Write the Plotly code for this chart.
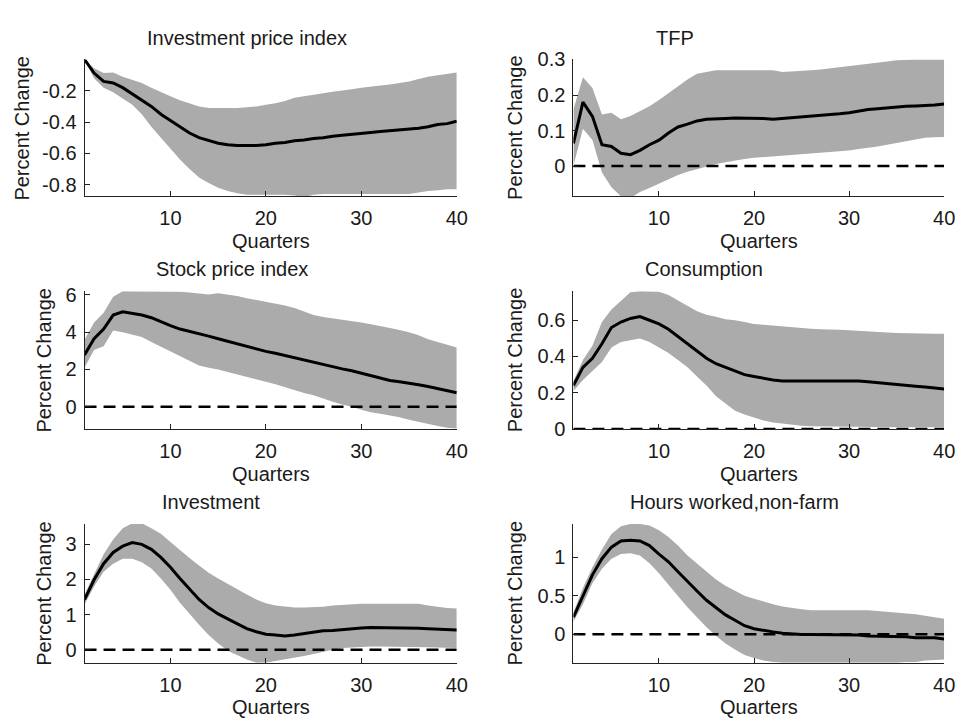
import plotly.graph_objects as go

quarters = list(range(1, 41))

# Investment price index
inv_price_mean = [0.0, -0.087, -0.14, -0.15, -0.18, -0.22, -0.26, -0.30, -0.35, -0.39,
                  -0.43, -0.47, -0.50, -0.52, -0.535, -0.545, -0.55, -0.55, -0.55, -0.545,
                  -0.535, -0.53, -0.52, -0.515, -0.505, -0.50, -0.49, -0.485, -0.48, -0.473,
                  -0.467, -0.46, -0.455, -0.45, -0.445, -0.44, -0.43, -0.415, -0.41, -0.395]
inv_price_upper = [0.0, -0.056, -0.087, -0.083, -0.11, -0.13, -0.15, -0.18, -0.21, -0.235,
                   -0.26, -0.28, -0.30, -0.31, -0.31, -0.31, -0.31, -0.305, -0.30, -0.29,
                   -0.28, -0.265, -0.245, -0.235, -0.227, -0.216, -0.206, -0.20, -0.19, -0.18,
                   -0.175, -0.167, -0.16, -0.15, -0.14, -0.125, -0.11, -0.10, -0.09, -0.083]
inv_price_lower = [0.0, -0.12, -0.18, -0.21, -0.25, -0.29, -0.35, -0.43, -0.50, -0.57,
                   -0.64, -0.70, -0.755, -0.79, -0.82, -0.84, -0.855, -0.865, -0.865, -0.865,
                   -0.865, -0.865, -0.87, -0.88, -0.865, -0.86, -0.86, -0.86, -0.86, -0.86,
                   -0.86, -0.86, -0.86, -0.86, -0.86, -0.85, -0.84, -0.835, -0.83, -0.83]

# TFP
tfp_mean = [0.064, 0.18, 0.14, 0.06, 0.055, 0.036, 0.032, 0.044, 0.06, 0.073,
            0.093, 0.11, 0.118, 0.127, 0.132, 0.134, 0.134, 0.135, 0.135, 0.136,
            0.134, 0.132, 0.134, 0.136, 0.138, 0.139, 0.141, 0.144, 0.147, 0.15,
            0.155, 0.159, 0.161, 0.164, 0.166, 0.168, 0.169, 0.17, 0.172, 0.175]
tfp_upper = [0.159, 0.25, 0.22, 0.145, 0.15, 0.132, 0.141, 0.155, 0.168, 0.186,
             0.205, 0.223, 0.244, 0.26, 0.265, 0.27, 0.27, 0.27, 0.27, 0.27,
             0.27, 0.27, 0.265, 0.266, 0.268, 0.27, 0.272, 0.275, 0.277, 0.28,
             0.283, 0.286, 0.29, 0.294, 0.298, 0.3, 0.3, 0.3, 0.3, 0.3]
tfp_lower = [0.0, 0.105, 0.073, -0.018, -0.06, -0.085, -0.09, -0.073, -0.062, -0.05,
             -0.036, -0.025, -0.016, -0.009, 0.0, 0.006, 0.011, 0.016, 0.02, 0.023,
             0.025, 0.027, 0.029, 0.031, 0.032, 0.034, 0.036, 0.038, 0.041, 0.044,
             0.048, 0.051, 0.055, 0.06, 0.064, 0.07, 0.075, 0.08, 0.081, 0.082]

# Stock price index
stock_mean = [2.78, 3.65, 4.17, 4.92, 5.1, 5.03, 4.92, 4.78, 4.56, 4.35,
              4.17, 4.05, 3.95, 3.79, 3.65, 3.51, 3.36, 3.22, 3.08, 2.97,
              2.87, 2.75, 2.63, 2.49, 2.37, 2.24, 2.14, 2.03, 1.93, 1.79,
              1.65, 1.51, 1.41, 1.34, 1.27, 1.18, 1.08, 0.96, 0.87, 0.75]
stock_upper = [3.6, 4.52, 5.04, 5.9, 6.2, 6.2, 6.2, 6.2, 6.2, 6.2,
               6.17, 6.14, 6.09, 6.03, 6.09, 6.03, 5.95, 5.83, 5.74, 5.65,
               5.57, 5.44, 5.3, 5.13, 4.92, 4.82, 4.75, 4.7, 4.6, 4.52,
               4.43, 4.35, 4.23, 4.12, 4.0, 3.83, 3.62, 3.48, 3.34, 3.18]
stock_lower = [2.1, 3.04, 3.25, 4.09, 4.0, 3.88, 3.74, 3.48, 3.22, 2.96,
               2.7, 2.43, 2.21, 2.09, 2.0, 1.86, 1.74, 1.6, 1.48, 1.34,
               1.2, 1.04, 0.87, 0.73, 0.61, 0.43, 0.26, 0.12, 0.0, -0.17,
               -0.3, -0.38, -0.47, -0.57, -0.7, -0.82, -0.96, -1.04, -1.13, -1.18]

# Consumption
cons_mean = [0.24, 0.34, 0.39, 0.47, 0.56, 0.59, 0.61, 0.62, 0.60, 0.58,
             0.55, 0.51, 0.47, 0.43, 0.39, 0.36, 0.34, 0.32, 0.30, 0.29,
             0.28, 0.27, 0.265, 0.265, 0.265, 0.265, 0.265, 0.265, 0.265, 0.265,
             0.265, 0.26, 0.256, 0.25, 0.247, 0.242, 0.236, 0.231, 0.226, 0.22]
cons_upper = [0.265, 0.38, 0.46, 0.59, 0.66, 0.71, 0.755, 0.76, 0.76, 0.757,
              0.74, 0.71, 0.68, 0.65, 0.63, 0.62, 0.605, 0.60, 0.59, 0.58,
              0.575, 0.57, 0.565, 0.56, 0.555, 0.553, 0.55, 0.55, 0.548, 0.545,
              0.543, 0.54, 0.535, 0.533, 0.53, 0.53, 0.528, 0.527, 0.526, 0.525]
cons_lower = [0.21, 0.27, 0.32, 0.37, 0.45, 0.48, 0.49, 0.50, 0.48, 0.45,
              0.42, 0.38, 0.34, 0.29, 0.24, 0.18, 0.14, 0.10, 0.08, 0.063,
              0.047, 0.036, 0.029, 0.023, 0.018, 0.015, 0.014, 0.013, 0.013, 0.012,
              0.012, 0.011, 0.011, 0.01, 0.01, 0.01, 0.01, 0.009, 0.009, 0.009]

# Investment
inv_mean = [1.43, 1.99, 2.45, 2.77, 2.95, 3.05, 3.0, 2.86, 2.63, 2.35,
            2.03, 1.73, 1.43, 1.2, 1.02, 0.88, 0.74, 0.6, 0.51, 0.44,
            0.42, 0.39, 0.42, 0.46, 0.51, 0.54, 0.55, 0.58, 0.6, 0.62,
            0.63, 0.63, 0.63, 0.62, 0.62, 0.61, 0.6, 0.58, 0.57, 0.56]
inv_upper = [1.57, 2.17, 2.72, 3.14, 3.46, 3.6, 3.6, 3.46, 3.3, 3.07,
             2.83, 2.61, 2.4, 2.19, 2.03, 1.87, 1.73, 1.57, 1.43, 1.32,
             1.26, 1.23, 1.2, 1.2, 1.2, 1.22, 1.26, 1.28, 1.3, 1.31,
             1.31, 1.31, 1.31, 1.31, 1.31, 1.31, 1.26, 1.22, 1.19, 1.17]
inv_lower = [1.29, 1.8, 2.22, 2.45, 2.59, 2.59, 2.49, 2.31, 2.03, 1.71,
             1.34, 1.02, 0.71, 0.42, 0.18, -0.03, -0.16, -0.28, -0.37, -0.37,
             -0.32, -0.28, -0.23, -0.18, -0.12, -0.05, 0.0, 0.05, 0.07, 0.09,
             0.09, 0.09, 0.09, 0.08, 0.08, 0.07, 0.07, 0.06, 0.05, 0.05]

# Hours worked, non-farm
hours_mean = [0.22, 0.49, 0.77, 0.98, 1.13, 1.21, 1.22, 1.21, 1.15, 1.04,
              0.94, 0.81, 0.68, 0.56, 0.44, 0.35, 0.25, 0.18, 0.11, 0.07,
              0.046, 0.03, 0.013, 0.0, -0.004, -0.004, -0.004, -0.004, -0.004, -0.004,
              -0.01, -0.025, -0.025, -0.025, -0.025, -0.034, -0.046, -0.046, -0.046, -0.063]
hours_upper = [0.28, 0.6, 0.87, 1.1, 1.3, 1.4, 1.43, 1.43, 1.41, 1.35,
               1.26, 1.15, 1.02, 0.92, 0.81, 0.71, 0.63, 0.56, 0.5, 0.46,
               0.42, 0.39, 0.36, 0.34, 0.325, 0.31, 0.31, 0.31, 0.31, 0.31,
               0.31, 0.31, 0.30, 0.29, 0.28, 0.27, 0.26, 0.24, 0.22, 0.2]
hours_lower = [0.16, 0.39, 0.66, 0.85, 0.98, 1.04, 1.05, 1.02, 0.92, 0.79,
               0.64, 0.49, 0.35, 0.22, 0.09, -0.02, -0.12, -0.2, -0.27, -0.31,
               -0.34, -0.36, -0.37, -0.37, -0.37, -0.37, -0.37, -0.37, -0.37, -0.37,
               -0.37, -0.37, -0.37, -0.37, -0.37, -0.36, -0.36, -0.34, -0.335, -0.33]

panel_titles = ["Investment price index", "TFP", "Stock price index",
                "Consumption", "Investment", "Hours worked,non-farm"]
y_tick_values = [
    [-0.8, -0.6, -0.4, -0.2],
    [0, 0.1, 0.2, 0.3],
    [0, 2, 4, 6],
    [0, 0.2, 0.4, 0.6],
    [0, 1, 2, 3],
    [0, 0.5, 1],
]
y_tick_labels = [
    ["-0.8", "-0.6", "-0.4", "-0.2"],
    ["0", "0.1", "0.2", "0.3"],
    ["0", "2", "4", "6"],
    ["0", "0.2", "0.4", "0.6"],
    ["0", "1", "2", "3"],
    ["0", "0.5", "1"],
]
x_tick_values = [10, 20, 30, 40]

series = [
    (inv_price_mean, inv_price_lower, inv_price_upper),
    (tfp_mean, tfp_lower, tfp_upper),
    (stock_mean, stock_lower, stock_upper),
    (cons_mean, cons_lower, cons_upper),
    (inv_mean, inv_lower, inv_upper),
    (hours_mean, hours_lower, hours_upper),
]

# Layout in pixels (figure is 969 x 728)
W, H = 969, 728
col_px = [(85.5, 462.0), (580.0, 955.0)]
row_px = [(50.0, 191.0), (289.0, 431.0), (529.0, 672.0)]
y_ranges = [(-0.874, 0.0), (-0.085, 0.3), (-1.2, 6.2), (0.0, 0.76), (-0.37, 3.58), (-0.37, 1.43)]
show_zero = [False, True, True, True, True, True]
title_pos = [(250, 28), (683, 28), (235, 266), (712, 266), (213, 506), (743, 506)]
ylabel_x = [22, 521, 45, 521, 45, 521]

SHADE = "#ababab"
TEXT = "#1a1a1a"
FONT = "Liberation Sans, Arial, sans-serif"

fig = go.Figure()
annotations = []

for i, (mean, lower, upper) in enumerate(series):
    r, c = divmod(i, 2)
    ax_id = "" if i == 0 else str(i + 1)
    xa, ya = "x" + ax_id, "y" + ax_id
    # confidence band
    fig.add_trace(go.Scatter(x=quarters, y=upper, mode="lines", line=dict(width=0, color=SHADE),
                             xaxis=xa, yaxis=ya, showlegend=False, hoverinfo="skip"))
    fig.add_trace(go.Scatter(x=quarters, y=lower, mode="lines", line=dict(width=0, color=SHADE),
                             fill="tonexty", fillcolor=SHADE,
                             xaxis=xa, yaxis=ya, showlegend=False, hoverinfo="skip"))
    # zero reference
    if show_zero[i]:
        fig.add_trace(go.Scatter(x=[1, 40], y=[0, 0], mode="lines",
                                 line=dict(color="black", width=2.5, dash="12px,7px"),
                                 xaxis=xa, yaxis=ya, showlegend=False, hoverinfo="skip"))
    # point estimate
    fig.add_trace(go.Scatter(x=quarters, y=mean, mode="lines",
                             line=dict(color="black", width=3),
                             xaxis=xa, yaxis=ya, showlegend=False))

    x0, x1 = col_px[c]
    y0, y1 = row_px[r]
    axis_common = dict(showgrid=False, zeroline=False, showline=True, linecolor="#222",
                       linewidth=1, ticks="inside", ticklen=5, tickcolor="#222",
                       tickfont=dict(family=FONT, size=20, color=TEXT), layer="above traces")
    fig.layout["xaxis" + ax_id] = dict(
        domain=[x0 / W, x1 / W], range=[1, 40], tickvals=x_tick_values,
        anchor=ya, ticklabelstandoff=4, **axis_common)
    fig.layout["yaxis" + ax_id] = dict(
        domain=[1 - y1 / H, 1 - y0 / H], range=list(y_ranges[i]),
        tickvals=y_tick_values[i], ticktext=y_tick_labels[i],
        anchor=xa, ticklabelstandoff=3, **axis_common)

    tx, ty = title_pos[i]
    annotations.append(dict(text=panel_titles[i], x=tx / W, y=1 - ty / H, xref="paper", yref="paper",
                            showarrow=False, xanchor="center", yanchor="middle",
                            font=dict(family=FONT, size=20, color=TEXT)))
    annotations.append(dict(text="Quarters", x=(x0 + x1) / 2 / W, y=1 - (y1 + 46) / H,
                            xref="paper", yref="paper", showarrow=False,
                            xanchor="center", yanchor="middle",
                            font=dict(family=FONT, size=20, color=TEXT)))
    annotations.append(dict(text="Percent Change", x=ylabel_x[i] / W, y=1 - (y0 + y1) / 2 / H,
                            xref="paper", yref="paper", showarrow=False, textangle=-90,
                            xanchor="center", yanchor="middle",
                            font=dict(family=FONT, size=20, color=TEXT)))

fig.update_layout(
    width=W, height=H, margin=dict(l=0, r=0, t=0, b=0),
    paper_bgcolor="white", plot_bgcolor="white",
    annotations=annotations, showlegend=False,
)

fig.write_html("out.html")
